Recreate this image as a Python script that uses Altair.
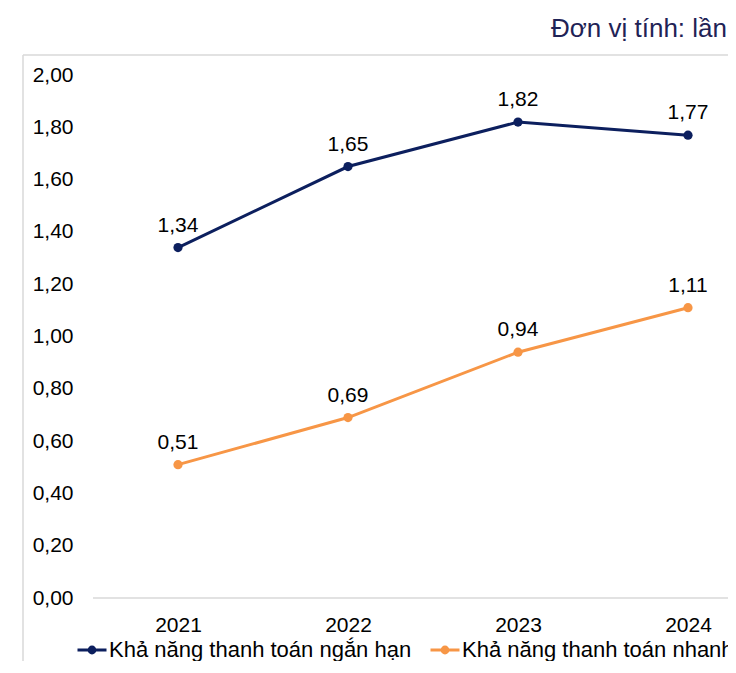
import altair as alt
import pandas as pd

years = [2021, 2022, 2023, 2024]
series_names = ["Khả năng thanh toán ngắn hạn", "Khả năng thanh toán nhanh"]
short_term = [1.34, 1.65, 1.82, 1.77]
quick = [0.51, 0.69, 0.94, 1.11]
y_ticks = [0.0, 0.2, 0.4, 0.6, 0.8, 1.0, 1.2, 1.4, 1.6, 1.8, 2.0]
unit_text = "Đơn vị tính: lần"

NAVY = "#0c1f5e"
ORANGE = "#f79646"
FONT = "Liberation Sans"

rows = []
for name, vals in zip(series_names, [short_term, quick]):
    for yr, v in zip(years, vals):
        rows.append({"year": yr, "series": name, "value": v})
df = pd.DataFrame(rows)

W = 635
H = 523

xscale = alt.Scale(domain=[2020.5, 2020.5 + W / 170.0], nice=False, zero=False)
yscale = alt.Scale(domain=[0, 2], nice=False)

base = alt.Chart(df).encode(
    x=alt.X("year:Q", scale=xscale,
            axis=alt.Axis(values=years, format="d", title=None, grid=False,
                          domain=False, ticks=False, labelPadding=16,
                          labelFontSize=21, labelFont=FONT, labelColor="#000000")),
    y=alt.Y("value:Q", scale=yscale,
            axis=alt.Axis(values=y_ticks, title=None, grid=False, domain=False,
                          ticks=False, labelPadding=20, labelFontSize=21,
                          labelFont=FONT, labelColor="#000000",
                          labelExpr="replace(format(datum.value, '.2f'), '.', ',')")),
)

color = alt.Color(
    "series:N",
    scale=alt.Scale(domain=series_names, range=[NAVY, ORANGE]),
    sort=series_names,
    legend=alt.Legend(
        title=None, orient="none", legendX=-17, legendY=559, direction="horizontal",
        symbolType="M-1,0H1M-0.2,0A0.2,0.2 0 1,1 0.2,0A0.2,0.2 0 1,1 -0.2,0M-0.1,0A0.1,0.1 0 1,1 0.1,0A0.1,0.1 0 1,1 -0.1,0",
        symbolSize=841, symbolStrokeWidth=3, symbolFillColor="transparent",
        labelFontSize=22, labelFont=FONT, labelColor="#000000", labelOffset=1,
        columnPadding=12, labelLimit=400, padding=0,
    ),
)

baseline = alt.Chart(pd.DataFrame({"v": [0]})).mark_rule(
    color="#d9d9d9", strokeWidth=1.5
).encode(y=alt.Y("v:Q", scale=yscale))

lines = base.mark_line(strokeWidth=3).encode(color=color)
points = base.mark_point(filled=True, size=85, opacity=1).encode(
    color=alt.Color("series:N", scale=alt.Scale(domain=series_names, range=[NAVY, ORANGE]), legend=None)
)
labels = base.transform_calculate(
    lbl="replace(format(datum.value, '.2f'), '.', ',')"
).mark_text(
    dy=-16, baseline="alphabetic", align="center", fontSize=21, font=FONT, color="#000000"
).encode(text="lbl:N")

frame_top = alt.Chart(pd.DataFrame({"v": [0]})).mark_rule(color="#d9d9d9", strokeWidth=1.5).encode(
    x=alt.value(-70), x2=alt.value(W + 20), y=alt.value(-20)
)
frame_left = alt.Chart(pd.DataFrame({"v": [0]})).mark_rule(color="#d9d9d9", strokeWidth=1.5).encode(
    x=alt.value(-70), y=alt.value(-20), y2=alt.value(H + 90)
)
unit = alt.Chart(pd.DataFrame({"t": [unit_text]})).mark_text(
    align="right", baseline="alphabetic", fontSize=26, font=FONT, color="#1f2356"
).encode(x=alt.value(634), y=alt.value(-38), text="t:N")

chart = alt.layer(frame_top, frame_left, baseline, lines, points, labels, unit).properties(
    width=W, height=H,
    autosize=alt.AutoSizeParams(type="none"),
    padding={"left": 85, "top": 67, "right": 0, "bottom": 63},
).configure_view(stroke=None)

chart.save("out.html", embed_options={"renderer": "svg", "actions": False})
